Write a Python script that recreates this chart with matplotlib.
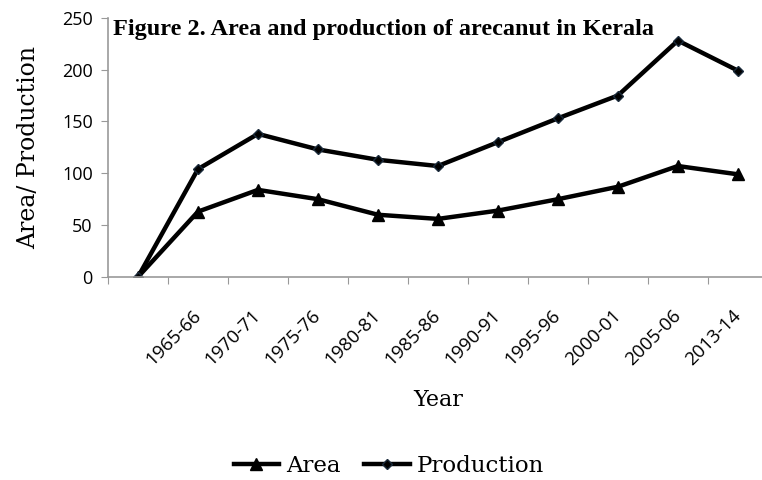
import matplotlib.pyplot as plt

years = ['', '1965-66', '1970-71', '1975-76', '1980-81', '1985-86',
         '1990-91', '1995-96', '2000-01', '2005-06', '2013-14']
area = [0, 63, 84, 75, 60, 56, 64, 75, 87, 107, 99]
production = [0, 104, 138, 123, 113, 107, 130, 153, 175, 228, 199]

fig = plt.figure(figsize=(7.62, 4.8), dpi=100)
ax = fig.add_axes([0.1417, 0.423, 0.866, 0.54])

x = list(range(len(years)))
ax.plot(x, area, color='black', lw=3.2, marker='^', markersize=9, label='Area')
ax.plot(x, production, color='black', lw=3.2, marker='D', markersize=5,
        markeredgecolor='#1a2a3a', label='Production')

ax.set_xlim(-0.5, len(years) - 0.5)
ax.set_ylim(0, 250)
ax.set_yticks([0, 50, 100, 150, 200, 250])

# category ticks between points, labels under points
ax.set_xticks([i - 0.5 for i in range(len(years) + 1)], minor=False)
ax.set_xticklabels([])
ax.set_xticks(x, minor=True)
ax.set_xticklabels(years, minor=True, rotation=45, ha='right', va='center',
                   rotation_mode='anchor', fontsize=13.5, family='Open Sans')
ax.tick_params(axis='x', which='minor', length=0, pad=26)
ax.tick_params(axis='x', which='major', length=5, color='#999999', direction='out')
ax.tick_params(axis='y', length=5, color='#999999', labelsize=13, pad=6)
for lab in ax.get_yticklabels():
    lab.set_family('Open Sans')

for s in ['top', 'right']:
    ax.spines[s].set_visible(False)
for s in ['left', 'bottom']:
    ax.spines[s].set_color('#999999')
    ax.spines[s].set_linewidth(1.2)

ax.set_ylabel('Area/ Production', family='DejaVu Serif', fontsize=17, labelpad=16)
ax.set_xlabel('Year', family='DejaVu Serif', fontsize=16, labelpad=14)

ax.text(0.008, 0.995, 'Figure 2. Area and production of arecanut in Kerala',
        transform=ax.transAxes, ha='left', va='top', family='Liberation Serif',
        fontweight='bold', fontsize=17.5)

leg = fig.legend(loc='center', bbox_to_anchor=(0.51, 0.03), ncol=2, frameon=False,
                 prop={'family': 'DejaVu Serif', 'size': 16.5}, handlelength=2.0,
                 columnspacing=1.0, handletextpad=0.3)

fig.savefig('out.png', dpi=100)
